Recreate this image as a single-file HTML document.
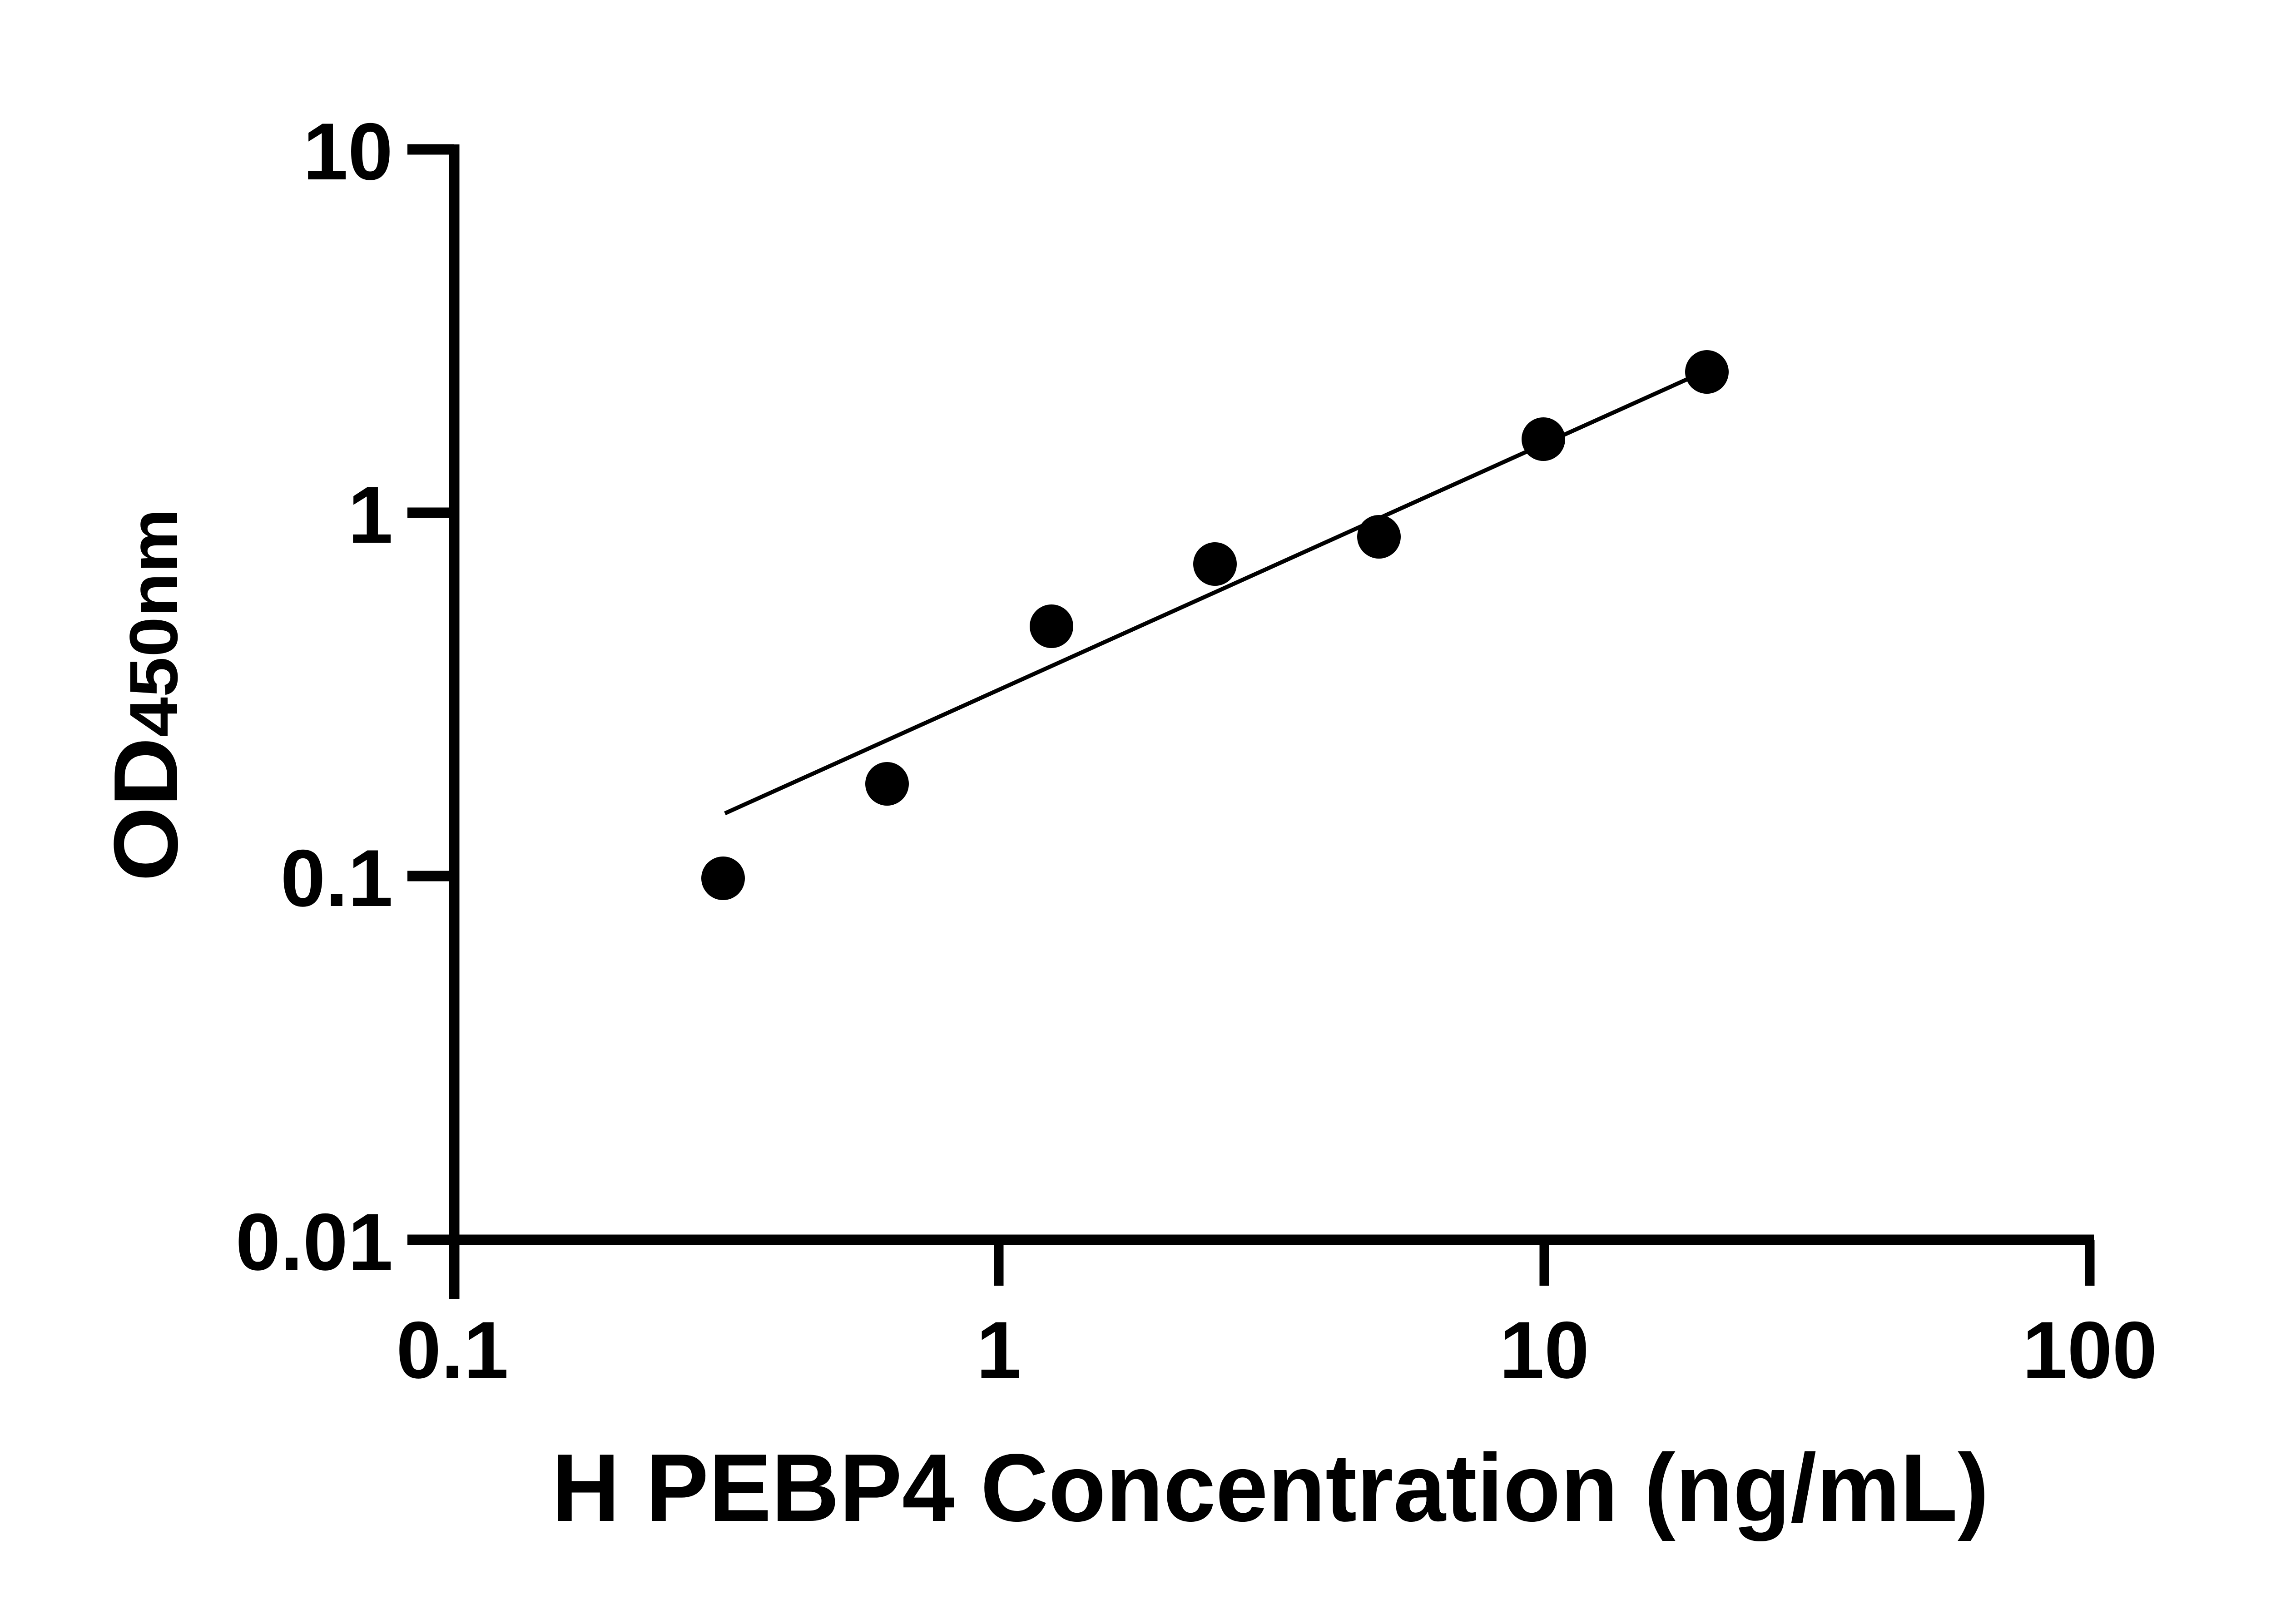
<!DOCTYPE html>
<html><head><meta charset="utf-8"><style>html,body{margin:0;padding:0;background:#fff}svg{display:block}</style></head>
<body>
<svg width="5170" height="3576" viewBox="0 0 5170 3576" xmlns="http://www.w3.org/2000/svg" font-family="Liberation Sans, Arial, sans-serif" font-weight="bold">
<rect width="5170" height="3576" fill="#fff"/>
<g stroke="#000" stroke-width="23" fill="none">
<line x1="1000" y1="318" x2="1000" y2="2860"/>
<line x1="897" y1="329" x2="1000" y2="329"/>
<line x1="897" y1="1129" x2="1000" y2="1129"/>
<line x1="897" y1="1929" x2="1000" y2="1929"/>
<line x1="897" y1="2730" x2="4610" y2="2730"/>
</g>
<g stroke="#000" stroke-width="21">
<line x1="2199" y1="2730" x2="2199" y2="2831"/>
<line x1="3400" y1="2730" x2="3400" y2="2831"/>
<line x1="4601" y1="2730" x2="4601" y2="2831"/>
</g>
<g font-size="178" text-anchor="end">
<text x="865" y="395">10</text>
<text x="865" y="1195">1</text>
<text x="865" y="1995">0.1</text>
<text x="865" y="2796">0.01</text>
</g>
<g font-size="178" text-anchor="middle">
<text x="996" y="3034">0.1</text>
<text x="2199" y="3034">1</text>
<text x="3400" y="3034">10</text>
<text x="4601" y="3034">100</text>
</g>
<text x="2797" y="3349" font-size="212" text-anchor="middle" textLength="3164" lengthAdjust="spacingAndGlyphs">H PEBP4 Concentration (ng/mL)</text>
<text transform="translate(390,1941) rotate(-90)" font-size="200" textLength="821" lengthAdjust="spacingAndGlyphs">OD<tspan font-size="150">450nm</tspan></text>
<line x1="1596" y1="1791" x2="3717" y2="834" stroke="#000" stroke-width="9"/>
<g fill="#000">
<circle cx="1592" cy="1934" r="48"/>
<circle cx="1953" cy="1726" r="48"/>
<circle cx="2315" cy="1379" r="48"/>
<circle cx="2675" cy="1242" r="48"/>
<circle cx="3036" cy="1182" r="48"/>
<circle cx="3398" cy="967" r="48"/>
<circle cx="3758" cy="819" r="48"/>
</g>
</svg>
</body></html>
